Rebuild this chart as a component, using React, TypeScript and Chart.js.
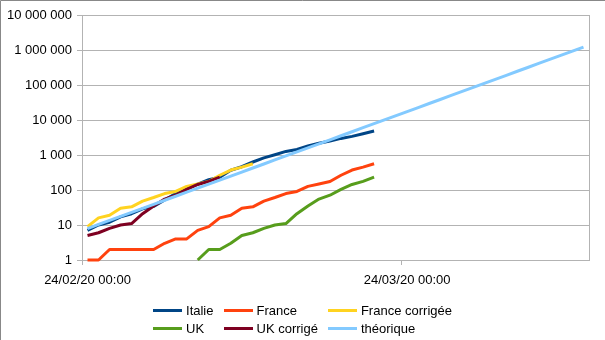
import React, { useEffect, useRef } from "react";
import { Chart, registerables } from "chart.js";

Chart.register(...registerables);

// ---- data ----
const totalDays = 46;
const xTickDays = [0, 29];
const xTickLabels = ["24/02/20 00:00", "24/03/20 00:00"];
const yTicks = [1, 10, 100, 1000, 10000, 100000, 1000000, 10000000];

const italie = [7, 10, 12, 17, 21, 29, 34, 52, 79, 107, 148, 197, 233, 366, 463, 631, 827, 1016, 1266, 1441, 1809, 2158, 2503, 2978, 3405, 4032, 4825];
const france = [1, 1, 2, 2, 2, 2, 2, 3, 4, 4, 7, 9, 16, 19, 30, 33, 48, 61, 79, 91, 127, 148, 175, 264, 372, 450, 562];
const franceCorrigee = [9, 16, 19, 30, 33, 48, 61, 79, 91, 127, 148, 175, 264, 372, 450, 562];
const ukStartDay = 10;
const uk = [1, 2, 2, 3, 5, 6, 8, 10, 11, 21, 35, 55, 71, 104, 144, 177, 233];
const ukCorrige = [5, 6, 8, 10, 11, 21, 35, 55, 71, 104, 144, 177, 233];
const theorique = [7.9, 10.4, 13.5, 17.6, 22.9, 29.9, 39, 50.9, 66.3, 86.5, 112.7, 147, 192, 250, 326, 425, 554, 722, 941, 1227, 1600, 2085, 2719, 3545, 4622, 6026, 7856, 10243, 13355, 17411, 22699, 29594, 38583, 50304, 65582, 85507, 111479, 145345, 189495, 247058, 322107, 419954, 547529, 713850, 930702, 1213389];

const seriesLabels = ["Italie", "France", "France corrigée", "UK", "UK corrigé", "théorique"];
const seriesColors = ["#004586", "#ff420e", "#ffd320", "#579d1c", "#7e0021", "#83caff"];
const seriesValues = [italie, france, franceCorrigee, uk, ukCorrige, theorique];
const seriesStart = [0, 0, 0, ukStartDay, 0, 0];

const FONT = "'Liberation Sans', Arial, sans-serif";

function fmt(v: number): string {
  return Math.round(v).toString().replace(/\B(?=(\d{3})+(?!\d))/g, " ");
}

const framePlugin = {
  id: "frame",
  beforeDraw(chart: any) {
    const { ctx, width, height } = chart;
    ctx.save();
    ctx.fillStyle = "#ffffff";
    ctx.fillRect(0, 0, width, height);
    ctx.strokeStyle = "#888888";
    ctx.lineWidth = 1;
    ctx.beginPath();
    ctx.moveTo(0.5, height);
    ctx.lineTo(0.5, 0.5);
    ctx.lineTo(width, 0.5);
    ctx.stroke();
    ctx.restore();
  },
  beforeDatasetsDraw(chart: any) {
    const { ctx, chartArea } = chart;
    ctx.save();
    ctx.strokeStyle = "#b3b3b3";
    ctx.lineWidth = 1;
    ctx.beginPath();
    ctx.moveTo(Math.round(chartArea.right) + 0.5, chartArea.top);
    ctx.lineTo(Math.round(chartArea.right) + 0.5, chartArea.bottom);
    ctx.stroke();
    ctx.restore();
  },
};

export default function App() {
  const ref = useRef<HTMLCanvasElement | null>(null);

  useEffect(() => {
    if (!ref.current) return;
    const datasets = seriesValues.map((vals, s) => ({
      label: seriesLabels[s],
      data: vals.map((v, i) => ({ x: seriesStart[s] + i + 0.5, y: v })),
      borderColor: seriesColors[s],
      backgroundColor: seriesColors[s],
      borderWidth: 3,
      pointRadius: 0,
      pointHoverRadius: 0,
      tension: 0,
      fill: false,
      clip: false,
      borderJoinStyle: "round" as const,
      order: seriesValues.length - s,
    }));

    const chart = new Chart(ref.current, {
      type: "line",
      data: { datasets },
      plugins: [framePlugin],
      options: {
        animation: false,
        responsive: false,
        devicePixelRatio: 1,
        layout: { padding: { top: 15, right: 16, bottom: 40, left: 0 } },
        plugins: { legend: { display: false }, tooltip: { enabled: false } },
        scales: {
          x: {
            type: "linear",
            min: 0,
            max: totalDays,
            afterBuildTicks: (s: any) => {
              s.ticks = xTickDays.map((v) => ({ value: v }));
            },
            afterFit: (s: any) => {
              s.height = 40;
            },
            ticks: {
              autoSkip: false,
              maxRotation: 0,
              labelOffset: 5.5,
              padding: 8,
              color: "#000000",
              font: { family: FONT, size: 13 },
              callback: (_v: any, i: number) => xTickLabels[i] ?? "",
            },
            grid: { drawOnChartArea: false, drawTicks: true, tickLength: 5, color: "#b3b3b3" },
            border: { color: "#b3b3b3" },
          },
          y: {
            type: "logarithmic",
            min: 1,
            max: 10000000,
            afterBuildTicks: (s: any) => {
              s.ticks = yTicks.map((v) => ({ value: v, major: true }));
            },
            afterFit: (s: any) => {
              s.width = 82;
            },
            ticks: {
              autoSkip: false,
              padding: 5,
              color: "#000000",
              font: { family: FONT, size: 13 },
              callback: (v: any) => fmt(Number(v)),
            },
            grid: { color: "#b3b3b3", tickLength: 5 },
            border: { color: "#b3b3b3" },
          },
        },
      },
    } as any);
    return () => chart.destroy();
  }, []);

  return (
    <div style={{ position: "absolute", left: 0, top: 0, width: 605, height: 340, background: "#fff", overflow: "hidden" }}>
      <canvas ref={ref} width={605} height={340} style={{ display: "block", width: 605, height: 340 }} />
      <div style={{ position: "absolute", left: 0, top: 301, width: 605, display: "flex", justifyContent: "center" }}>
        <div style={{ display: "grid", gridTemplateColumns: "auto auto auto", columnGap: 10 }}>
          {seriesLabels.map((label, s) => (
            <div key={label} style={{ display: "flex", alignItems: "center", height: 18, font: `13px ${FONT}`, color: "#000", whiteSpace: "nowrap" }}>
              <span style={{ display: "inline-block", width: 29, height: 3, background: seriesColors[s], marginRight: 4 }} />
              <span>{label}</span>
            </div>
          ))}
        </div>
      </div>
    </div>
  );
}
